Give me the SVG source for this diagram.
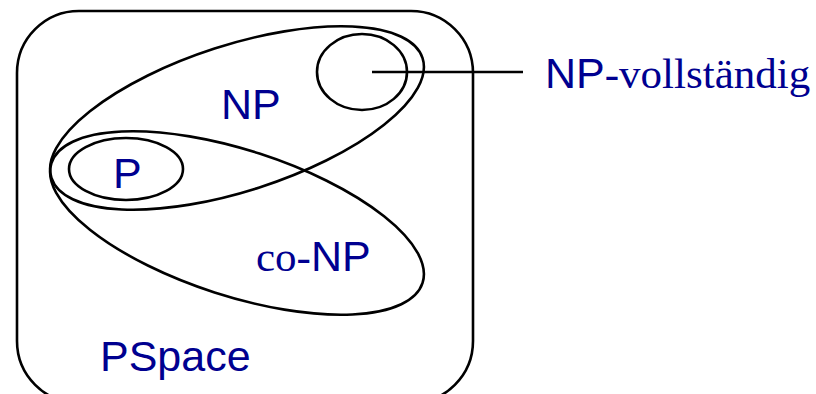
<svg xmlns="http://www.w3.org/2000/svg" width="816" height="394" viewBox="0 0 816 394">
<style>
.s{fill:none;stroke:#000;stroke-width:2.6}
.t{fill:#000090;font-size:43px}
.sans{font-family:"Liberation Sans",Arial,sans-serif}
.serif{font-family:"Liberation Serif","Times New Roman",serif}
</style>
<rect width="816" height="394" fill="#fff"/>
<g id="pspace"><rect class="s" x="17" y="11" width="456" height="392" rx="62" ry="62"/>
<text class="t sans" x="100" y="371">PSpace</text></g>
<g id="np"><ellipse class="s" cx="237" cy="118" rx="195" ry="73" transform="rotate(-17.9 237 118)"/>
<text class="t sans" x="221" y="119">NP</text></g>
<g id="conp"><ellipse class="s" cx="237" cy="223" rx="195" ry="73" transform="rotate(17.9 237 223)"/>
<text class="t" x="256" y="271"><tspan class="serif">co-</tspan><tspan class="sans">NP</tspan></text></g>
<g id="p"><ellipse class="s" cx="126" cy="169" rx="57" ry="31"/>
<text class="t sans" x="113" y="188">P</text></g>
<g id="npc"><ellipse class="s" cx="362" cy="72" rx="45" ry="38"/>
<text class="t" x="545" y="88"><tspan class="sans">NP</tspan><tspan class="serif">-vollständig</tspan></text></g>
<g id="connectors"><line class="s" x1="372" y1="72" x2="523" y2="72"/></g>
</svg>
